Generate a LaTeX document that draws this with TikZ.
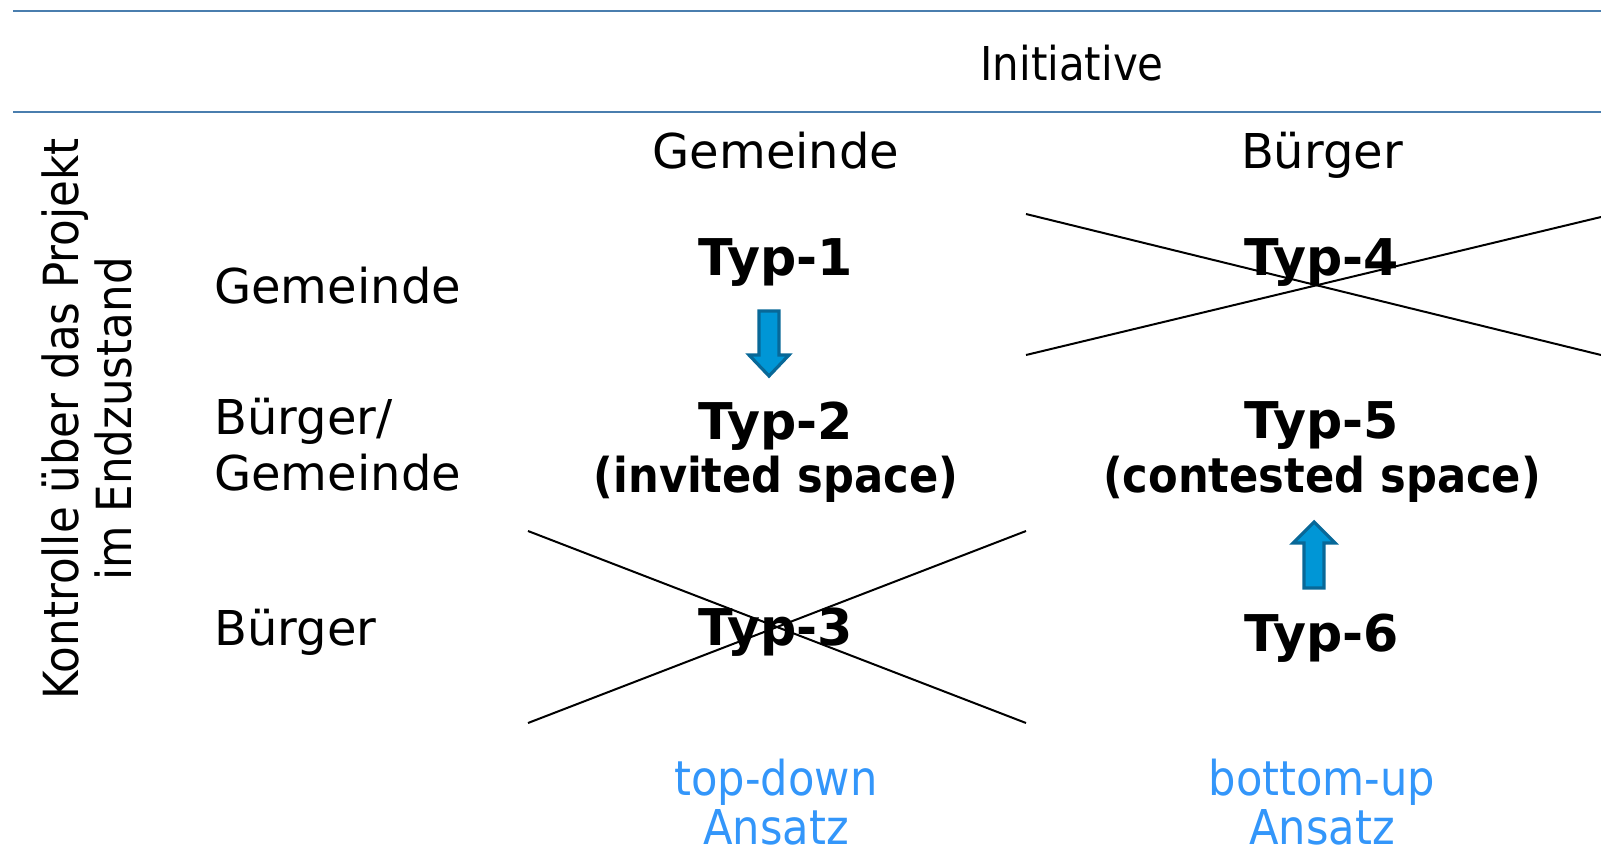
\documentclass[tikz,border=0pt]{standalone}
\usepackage{fontspec}
\setmainfont{DejaVu Sans}
\newfontfamily\narrowfont{DejaVu Sans}[FakeStretch=0.9]
\usepackage{tikz}
\usetikzlibrary{arrows,positioning,calc}
\definecolor{rulecol}{RGB}{74,126,174}
\definecolor{ansatzcol}{RGB}{51,150,250}
\definecolor{arrowfill}{RGB}{0,150,214}
\definecolor{arrowline}{RGB}{8,104,152}

\begin{document}
\begin{tikzpicture}[x=0.75pt, y=-0.75pt, rule/.style={rulecol,line width=1.6pt},cross/.style={black,line width=1.5pt},hdr node/.style={font=\fontsize{36}{40}\selectfont},typ node/.style={font=\fontsize{38}{40}\selectfont\bfseries,align=center},row node/.style={font=\fontsize{36}{42}\selectfont,align=left,anchor=west,inner sep=0pt},ansatz node/.style={font=\narrowfont\fontsize{36}{37}\selectfont,text=ansatzcol,align=center,inner sep=0pt},fat arrow/.style={fill=arrowfill,draw=arrowline,line width=2.4pt,line join=miter}]
\useasboundingbox (0,0) rectangle (1601,860);
% rules and titles
\coordinate (r1a) at (13,11);
\coordinate (r1b) at (1601,11);
\coordinate (r2a) at (13,112);
\coordinate (r2b) at (1601,112);
\draw[rule] (r1a) -- (r1b);
\draw[rule] (r2a) -- (r2b);
\begin{scope}
\node[hdr node,font=\narrowfont\fontsize{35}{40}\selectfont] (init) at (1072,63) {Initiative};
\node[hdr node] (colG) at (776,151) {Gemeinde};
\node[hdr node] (colB) at (1322,155) {Bürger};
\node[hdr node,rotate=90,align=center,font=\narrowfont\fontsize{36.3}{40}\selectfont] (ctrl) at (87,419) {Kontrolle über das Projekt\\im Endzustand};
\node[row node] (rowG) at (214,286) {Gemeinde};
\node[row node] (rowBG) at (214,445) {Bürger/\\Gemeinde};
\node[row node] (rowB) at (214,632) {Bürger};
\end{scope}
% types
\begin{scope}
\node[typ node] (t1) at (776,262) {Typ-1};
\node[typ node] (t2) at (776,452) {Typ-2\\{\narrowfont\fontsize{36}{40}\selectfont\bfseries (invited space)}};
\node[typ node] (t3) at (776,632) {Typ-3};
\node[typ node] (t4) at (1322,262) {Typ-4};
\node[typ node] (t5) at (1322,452) {Typ-5\\{\narrowfont\fontsize{36}{40}\selectfont\bfseries (contested space)}};
\node[typ node] (t6) at (1322,638) {Typ-6};
\node[ansatz node] (td) at (776,802) {top-down\\Ansatz};
\node[ansatz node] (bu) at (1322,802) {bottom-up\\Ansatz};
\end{scope}
% crossed out
\coordinate (x4a) at (1026,214);
\coordinate (x4b) at (1601,355);
\coordinate (x4c) at (1026,355);
\coordinate (x4d) at (1601,217);
\draw[cross] (x4a) -- (x4b);
\draw[cross] (x4c) -- (x4d);
\coordinate (x3a) at (528,531);
\coordinate (x3b) at (1026,723);
\coordinate (x3c) at (528,723);
\coordinate (x3d) at (1026,531);
\draw[cross] (x3a) -- (x3b);
\draw[cross] (x3c) -- (x3d);
% block arrows
\draw[fat arrow] (759,311) -- (779,311) -- (779,355) -- (789,355) -- (769,376) -- (749,355) -- (759,355) -- cycle;
\draw[fat arrow] (1304,588) -- (1324,588) -- (1324,543) -- (1335,543) -- (1314,522) -- (1293,543) -- (1304,543) -- cycle;
\end{tikzpicture}
\end{document}
